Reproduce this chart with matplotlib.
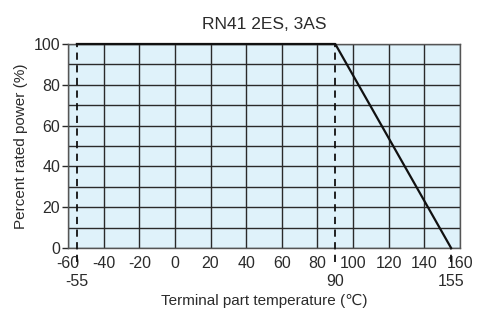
import matplotlib.pyplot as plt
import numpy as np

title = 'RN41 2ES, 3AS'
temp = [-55, 90, 155]
power = [100, 100, 0]
major_x = list(range(-60, 161, 20))
extra_x = [-55, 90, 155]
major_y = list(range(0, 101, 20))

plt.rcParams['font.family'] = ['Liberation Sans', 'DejaVu Sans']
txt = '#2b2b2b'
fig = plt.figure(figsize=(4.83, 3.09), dpi=100)
ax = fig.add_axes([68 / 483, 1 - 248 / 309, 392 / 483, 204 / 309])
ax.set_facecolor('#dff2fa')
ax.set_xlim(-60, 160)
ax.set_ylim(0, 100)

# grid
for x in range(-60, 161, 20):
    ax.axvline(x, color='#2a2a2a', lw=1.0, zorder=1)
for y in range(0, 101, 10):
    ax.axhline(y, color='#2a2a2a', lw=1.0, zorder=1)

# dashed guides, running below the axis
for x in extra_x:
    top = 100 if x != 155 else 0
    ax.plot([x, x], [-7, top], color='#111111', lw=1.3, ls=(0, (4, 3)),
            clip_on=False, zorder=3)

ax.plot(temp, power, color='#111111', lw=1.6, zorder=4, clip_on=False)

for s in ax.spines.values():
    s.set_color('#555555')
    s.set_linewidth(1.0)

ax.set_xticks(major_x)
ax.set_xticks(extra_x, minor=True)
ax.set_xticklabels([str(v) for v in major_x])
ax.set_xticklabels([str(v) for v in extra_x], minor=True)
ax.tick_params(axis='x', which='major', length=0, pad=6, labelsize=11.5, labelcolor=txt)
ax.tick_params(axis='x', which='minor', length=0, pad=19, labelsize=11.5, labelcolor=txt)
ax.set_yticks(major_y)
ax.tick_params(axis='y', length=4, width=1, color='#2a2a2a', pad=1.5, labelsize=11.5, labelcolor=txt)

ax.set_xlabel('Terminal part temperature (℃)', fontsize=11, color=txt, labelpad=3)
ax.set_ylabel('Percent rated power (%)', fontsize=11, color=txt, labelpad=4)
ax.set_title(title, fontsize=12.5, color=txt, pad=11)

fig.savefig('out.png', dpi=100)
